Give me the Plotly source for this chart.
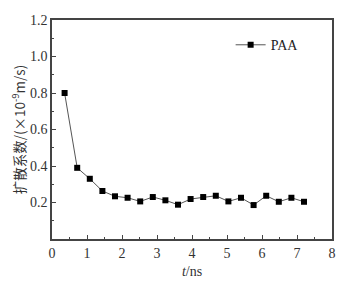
import plotly.graph_objects as go

t_ns = [0.36, 0.72, 1.08, 1.44, 1.80, 2.16, 2.52, 2.88, 3.24, 3.60,
        3.96, 4.32, 4.68, 5.04, 5.40, 5.76, 6.12, 6.48, 6.84, 7.20]
paa = [0.80, 0.39, 0.33, 0.263, 0.234, 0.226, 0.206, 0.230, 0.212, 0.188,
       0.219, 0.230, 0.237, 0.206, 0.226, 0.186, 0.237, 0.204, 0.226, 0.204]
x_ticks = [0, 1, 2, 3, 4, 5, 6, 7, 8]
y_ticks = [0.2, 0.4, 0.6, 0.8, 1.0, 1.2]

font_family = "Liberation Serif, Times New Roman, serif"

fig = go.Figure()
fig.add_trace(go.Scatter(
    x=t_ns, y=paa, mode="lines+markers", name="PAA",
    line=dict(color="#555555", width=1),
    marker=dict(symbol="square", size=6, color="#000000"),
))

axis_common = dict(
    showgrid=False, zeroline=False, showline=True, mirror=True,
    linecolor="#444444", linewidth=1.5,
    ticks="inside", ticklen=4, tickwidth=1, tickcolor="#444444",
    tickfont=dict(family=font_family, size=14, color="#333333"),
    automargin=False,
)

fig.update_layout(
    width=354, height=280,
    margin=dict(l=44, r=30, t=12, b=49),
    paper_bgcolor="white", plot_bgcolor="white",
    font=dict(family=font_family, color="#333333"),
    showlegend=True,
    legend=dict(x=0.638, y=0.885, xanchor="left", yanchor="middle",
                bgcolor="rgba(0,0,0,0)", font=dict(family=font_family, size=14, color="#222222"),
                itemwidth=30, tracegroupgap=0),
    xaxis=dict(range=[0, 8], tickvals=x_ticks,
               minor=dict(ticks="inside", ticklen=2, dtick=0.5, tickcolor="#444444"),
               title=dict(text="<i>t</i>/ns", font=dict(family=font_family, size=14, color="#333333"), standoff=7),
               **axis_common),
    yaxis=dict(range=[0, 1.2], tickvals=y_ticks, tickformat=".1f",
               minor=dict(ticks="inside", ticklen=2, dtick=0.1, tickcolor="#444444"),
               title=dict(text="扩散系数/(×10<sup>-9</sup>m/s)", font=dict(family="Noto Sans CJK SC, " + font_family, size=13.5, color="#333333"), standoff=4),
               **axis_common),
)

fig.write_html("out.html")
